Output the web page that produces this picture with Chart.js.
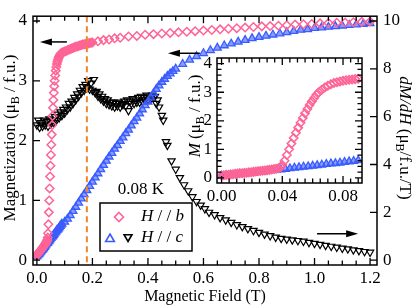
<!DOCTYPE html>
<html>
<head>
<meta charset="utf-8">
<script src="https://cdn.jsdelivr.net/npm/chart.js@4.4.1/dist/chart.umd.min.js"></script>
<style>
  html, body { margin: 0; padding: 0; background: #fff; }
  #wrap { position: relative; width: 414px; height: 308px; }
  #wrap canvas { position: absolute; left: 0; top: 0; }
</style>
</head>
<body>
<div id="wrap">
  <canvas id="mainChart" width="414" height="308"></canvas>
  <canvas id="insetChart" width="414" height="308"></canvas>
</div>
<script>
// H // b magnetization (uB / f.u.)
const fieldB = [0.0000, 0.0015, 0.0030, 0.0045, 0.0060, 0.0075, 0.0090, 0.0105, 0.0120, 0.0135,
  0.0150, 0.0165, 0.0180, 0.0195, 0.0210, 0.0225, 0.0240, 0.0255, 0.0270, 0.0285,
  0.0300, 0.0315, 0.0330, 0.0345, 0.0360, 0.0375, 0.0390, 0.0400, 0.0415, 0.0430,
  0.0445, 0.0460, 0.0475, 0.0490, 0.0505, 0.0520, 0.0535, 0.0550, 0.0565, 0.0580,
  0.0595, 0.0610, 0.0625, 0.0640, 0.0660, 0.0680, 0.0700, 0.0720, 0.0740, 0.0760,
  0.0780, 0.0800, 0.0820, 0.0840, 0.0860, 0.0880, 0.0900, 0.095, 0.100, 0.105,
  0.110, 0.115, 0.120, 0.125, 0.130, 0.135, 0.140, 0.145, 0.150, 0.155,
  0.160, 0.165, 0.170, 0.175, 0.180, 0.185, 0.190, 0.195, 0.200, 0.22,
  0.24, 0.26, 0.28, 0.30, 0.33, 0.36, 0.39, 0.42, 0.45, 0.48,
  0.51, 0.54, 0.57, 0.60, 0.63, 0.66, 0.69, 0.72, 0.75, 0.78,
  0.81, 0.84, 0.87, 0.90, 0.93, 0.96, 0.99, 1.02, 1.05, 1.08,
  1.11, 1.14, 1.17, 1.20];
const momentB = [0.08, 0.09, 0.10, 0.11, 0.12, 0.13, 0.14, 0.15, 0.16, 0.16,
  0.17, 0.18, 0.19, 0.20, 0.21, 0.22, 0.23, 0.24, 0.25, 0.26,
  0.27, 0.28, 0.29, 0.31, 0.32, 0.34, 0.38, 0.45, 0.60, 0.80,
  1.00, 1.20, 1.40, 1.58, 1.76, 1.93, 2.10, 2.26, 2.41, 2.55,
  2.68, 2.80, 2.91, 3.00, 3.09, 3.17, 3.23, 3.28, 3.32, 3.35,
  3.38, 3.40, 3.42, 3.44, 3.45, 3.46, 3.47, 3.48, 3.49, 3.50,
  3.51, 3.52, 3.53, 3.54, 3.55, 3.56, 3.57, 3.575, 3.58, 3.59,
  3.60, 3.605, 3.61, 3.615, 3.62, 3.625, 3.63, 3.635, 3.64, 3.66,
  3.68, 3.69, 3.71, 3.72, 3.74, 3.75, 3.77, 3.78, 3.79, 3.80,
  3.81, 3.82, 3.83, 3.84, 3.85, 3.86, 3.87, 3.88, 3.89, 3.90,
  3.91, 3.915, 3.92, 3.93, 3.94, 3.945, 3.95, 3.96, 3.965, 3.97,
  3.975, 3.98, 3.985, 3.99];

// H // c magnetization (uB / f.u.)
const fieldC = [0.000, 0.003, 0.006, 0.009, 0.012, 0.015, 0.018, 0.021, 0.024, 0.027,
  0.030, 0.033, 0.036, 0.039, 0.042, 0.045, 0.048, 0.051, 0.054, 0.057,
  0.060, 0.063, 0.066, 0.069, 0.072, 0.075, 0.078, 0.081, 0.084, 0.087,
  0.090, 0.10, 0.11, 0.12, 0.13, 0.14, 0.15, 0.16, 0.17, 0.18,
  0.19, 0.20, 0.21, 0.22, 0.23, 0.24, 0.25, 0.26, 0.27, 0.28,
  0.29, 0.30, 0.31, 0.32, 0.33, 0.34, 0.35, 0.36, 0.37, 0.38,
  0.39, 0.40, 0.41, 0.42, 0.43, 0.44, 0.45, 0.46, 0.47, 0.48,
  0.49, 0.50, 0.525, 0.55, 0.575, 0.60, 0.625, 0.65, 0.675, 0.70,
  0.725, 0.75, 0.775, 0.80, 0.825, 0.85, 0.875, 0.90, 0.925, 0.95,
  0.975, 1.00, 1.025, 1.05, 1.075, 1.10, 1.125, 1.15, 1.175, 1.20];
const momentC = [0.06, 0.08, 0.10, 0.11, 0.13, 0.15, 0.17, 0.18, 0.20, 0.22,
  0.24, 0.26, 0.28, 0.29, 0.31, 0.33, 0.35, 0.37, 0.39, 0.40,
  0.42, 0.44, 0.46, 0.48, 0.50, 0.51, 0.53, 0.55, 0.57, 0.59,
  0.61, 0.64, 0.69, 0.75, 0.82, 0.89, 0.96, 1.03, 1.10, 1.17,
  1.24, 1.31, 1.38, 1.45, 1.52, 1.59, 1.66, 1.73, 1.79, 1.86,
  1.92, 1.99, 2.05, 2.12, 2.18, 2.25, 2.32, 2.38, 2.45, 2.52,
  2.59, 2.65, 2.72, 2.79, 2.86, 2.92, 2.98, 3.03, 3.08, 3.12,
  3.16, 3.20, 3.28, 3.35, 3.41, 3.46, 3.51, 3.55, 3.59, 3.62,
  3.65, 3.68, 3.71, 3.73, 3.75, 3.77, 3.79, 3.81, 3.83, 3.85,
  3.86, 3.88, 3.89, 3.90, 3.91, 3.92, 3.93, 3.94, 3.95, 3.96];

// dM/dH for H // c (uB / f.u. / T), right axis
const fieldD = [0.000, 0.005, 0.010, 0.015, 0.020, 0.025, 0.030, 0.035, 0.040, 0.045,
  0.050, 0.055, 0.060, 0.065, 0.070, 0.075, 0.080, 0.085, 0.090, 0.095,
  0.100, 0.105, 0.110, 0.115, 0.120, 0.125, 0.130, 0.135, 0.140, 0.145,
  0.150, 0.155, 0.160, 0.165, 0.170, 0.175, 0.180, 0.185, 0.190, 0.195,
  0.200, 0.205, 0.210, 0.215, 0.220, 0.225, 0.230, 0.235, 0.240, 0.245,
  0.250, 0.255, 0.260, 0.265, 0.270, 0.275, 0.280, 0.285, 0.290, 0.295,
  0.300, 0.305, 0.310, 0.315, 0.320, 0.325, 0.330, 0.335, 0.340, 0.345,
  0.350, 0.355, 0.360, 0.365, 0.370, 0.375, 0.380, 0.385, 0.390, 0.395,
  0.400, 0.405, 0.410, 0.415, 0.420, 0.425, 0.430, 0.435, 0.440, 0.450,
  0.455, 0.465, 0.470, 0.485, 0.500, 0.515, 0.530, 0.545, 0.560, 0.575,
  0.590, 0.605, 0.620, 0.640, 0.660, 0.680, 0.700, 0.720, 0.740, 0.760,
  0.780, 0.800, 0.820, 0.840, 0.860, 0.880, 0.900, 0.920, 0.940, 0.960,
  0.980, 1.000, 1.020, 1.040, 1.060, 1.080, 1.100, 1.120, 1.140, 1.160,
  1.180, 1.200];
const dMdH = [5.65, 5.85, 5.55, 5.75, 5.60, 5.85, 5.65, 5.80, 5.60, 5.90,
  5.70, 5.85, 5.75, 6.00, 5.85, 6.10, 5.95, 6.20, 6.05, 6.30,
  6.15, 6.40, 6.30, 6.55, 6.40, 6.65, 6.55, 6.80, 6.70, 6.95,
  6.85, 7.10, 7.00, 7.25, 7.10, 7.35, 7.20, 7.50, 7.15, 7.40,
  7.10, 7.55, 7.00, 7.05, 6.85, 6.95, 6.75, 6.85, 6.65, 6.75,
  6.55, 6.70, 6.50, 6.60, 6.45, 6.60, 6.40, 6.55, 6.45, 6.60,
  6.40, 6.55, 6.50, 6.65, 6.45, 6.70, 6.25, 6.65, 6.55, 6.75,
  6.55, 6.70, 6.60, 6.80, 6.60, 6.85, 6.65, 6.80, 6.70, 6.90,
  6.70, 6.85, 6.75, 6.90, 6.80, 6.85, 6.55, 6.70, 6.40, 6.05,
  5.85, 4.95, 4.80, 4.15, 3.80, 3.45, 3.15, 2.90, 2.65, 2.45,
  2.30, 2.15, 2.00, 1.90, 1.78, 1.68, 1.58, 1.48, 1.40, 1.32,
  1.24, 1.16, 1.09, 1.02, 0.96, 0.91, 0.88, 0.85, 0.82, 0.79,
  0.74, 0.70, 0.66, 0.62, 0.58, 0.54, 0.50, 0.47, 0.43, 0.40,
  0.36, 0.33];

const markField = 0.18;   // dashed guide line (T)
const tempLabel = '0.08 K';

const pink = '#ff6496';
const blue = '#3a5cff';
const orange = '#f0852d';
const serif = '"Liberation Serif", "DejaVu Serif", serif';

const toPts = (xs, ys) => xs.map((x, i) => ({ x: x, y: ys[i] }));

function fontFor(p, size) {
  const s = p.sub ? Math.round(size * 0.68) : size;
  return (p.it ? 'italic ' : '') + s + 'px ' + serif;
}

// text made of pieces (italic / subscript), centred at x,y
function richText(ctx, parts, x, y, angle, size) {
  ctx.save();
  ctx.translate(x, y);
  ctx.rotate(angle);
  let total = 0;
  parts.forEach(p => { ctx.font = fontFor(p, size); p.w = ctx.measureText(p.t).width; total += p.w; });
  let cx = -total / 2;
  ctx.textBaseline = 'middle';
  ctx.textAlign = 'left';
  ctx.fillStyle = '#000';
  parts.forEach(p => {
    ctx.font = fontFor(p, size);
    ctx.fillText(p.t, cx, p.sub ? size * 0.3 : 0);
    cx += p.w;
  });
  ctx.restore();
}

function marker(ctx, kind, x, y, r, color, fill) {
  ctx.save();
  ctx.strokeStyle = color;
  ctx.lineWidth = 1.6;
  ctx.beginPath();
  if (kind === 'diamond') {
    ctx.moveTo(x, y - r); ctx.lineTo(x + r, y); ctx.lineTo(x, y + r); ctx.lineTo(x - r, y);
  } else if (kind === 'up') {
    ctx.moveTo(x, y - r); ctx.lineTo(x + r * 0.87, y + r * 0.5); ctx.lineTo(x - r * 0.87, y + r * 0.5);
  } else {
    ctx.moveTo(x, y + r); ctx.lineTo(x + r * 0.87, y - r * 0.5); ctx.lineTo(x - r * 0.87, y - r * 0.5);
  }
  ctx.closePath();
  if (fill) { ctx.fillStyle = fill; ctx.fill(); }
  ctx.stroke();
  ctx.restore();
}

function arrow(ctx, x1, x2, y) {
  const dir = x2 > x1 ? 1 : -1;
  ctx.save();
  ctx.strokeStyle = '#000';
  ctx.fillStyle = '#000';
  ctx.lineWidth = 1.5;
  ctx.beginPath();
  ctx.moveTo(x1, y);
  ctx.lineTo(x2 - dir * 8, y);
  ctx.stroke();
  ctx.beginPath();
  ctx.moveTo(x2, y);
  ctx.lineTo(x2 - dir * 12, y - 3.5);
  ctx.lineTo(x2 - dir * 12, y + 3.5);
  ctx.closePath();
  ctx.fill();
  ctx.restore();
}

function range(a, b, step) {
  const out = [];
  for (let i = 0; a + i * step <= b + 1e-9; i++) out.push(+(a + i * step).toFixed(4));
  return out;
}

// inward tick marks on all four sides
function drawTicks(ctx, area, xs, xMajor, xMinor, yl, ylMajor, ylMinor, yr, yrMajor) {
  ctx.save();
  ctx.strokeStyle = '#000';
  ctx.lineWidth = 1.3;
  ctx.beginPath();
  const vx = (vals, len) => vals.forEach(v => {
    const p = xs.getPixelForValue(v);
    ctx.moveTo(p, area.bottom); ctx.lineTo(p, area.bottom - len);
    ctx.moveTo(p, area.top); ctx.lineTo(p, area.top + len);
  });
  vx(xMajor, 7); vx(xMinor, 4.5);
  const vy = (scale, vals, len, left, right) => vals.forEach(v => {
    const p = scale.getPixelForValue(v);
    if (left) { ctx.moveTo(area.left, p); ctx.lineTo(area.left + len, p); }
    if (right) { ctx.moveTo(area.right, p); ctx.lineTo(area.right - len, p); }
  });
  if (yr) {
    vy(yl, ylMajor, 7, true, false);
    vy(yr, yrMajor, 7, false, true);
  } else {
    vy(yl, ylMajor, 7, true, true);
    vy(yl, ylMinor, 4.5, true, true);
  }
  ctx.stroke();
  ctx.restore();
}

const mainDecor = {
  id: 'mainDecor',
  afterDatasetsDraw(chart) {
    const ctx = chart.ctx, area = chart.chartArea;
    const px = chart.scales.x.getPixelForValue(markField);
    ctx.save();
    ctx.strokeStyle = orange;
    ctx.lineWidth = 2;
    ctx.setLineDash([6, 4]);
    ctx.beginPath();
    ctx.moveTo(px, area.top);
    ctx.lineTo(px, area.bottom);
    ctx.stroke();
    ctx.restore();
  },
  afterDraw(chart) {
    const ctx = chart.ctx, area = chart.chartArea;
    const xs = chart.scales.x, yl = chart.scales.y, yr = chart.scales.y1;
    ctx.save();
    ctx.strokeStyle = '#000';
    ctx.lineWidth = 1.5;
    ctx.strokeRect(area.left, area.top, area.right - area.left, area.bottom - area.top);
    ctx.restore();
    drawTicks(ctx, area, xs, range(0, 1.2, 0.2), range(0, 1.2, 0.05), yl, range(0, 4, 1), [], yr, range(0, 10, 2));

    richText(ctx, [{ t: 'Magnetic Field (T)' }], (area.left + area.right) / 2, 297, 0, 16);
    richText(ctx, [{ t: 'Magnetization (\u03bc' }, { t: 'B', sub: true }, { t: ' / f.u.)' }], 11, 138, -Math.PI / 2, 17);
    richText(ctx, [{ t: 'dM/dH', it: true }, { t: ' (\u03bc' }, { t: 'B', sub: true }, { t: '/f.u./T)' }], 404, 138, Math.PI / 2, 17);

    // field-sweep arrows, placed in data units
    arrow(ctx, xs.getPixelForValue(0.108), xs.getPixelForValue(0.011), yl.getPixelForValue(3.65));
    arrow(ctx, xs.getPixelForValue(0.587), xs.getPixelForValue(0.472), yl.getPixelForValue(3.46));
    arrow(ctx, xs.getPixelForValue(1.009), xs.getPixelForValue(1.157), yr.getPixelForValue(1.11));

    // temperature + legend box
    ctx.save();
    ctx.fillStyle = '#000';
    ctx.font = '17px ' + serif;
    ctx.textAlign = 'center';
    ctx.textBaseline = 'middle';
    ctx.fillText(tempLabel, 141, 190);
    ctx.fillStyle = '#fff';
    ctx.fillRect(100, 203, 92, 48);
    ctx.strokeStyle = '#000';
    ctx.lineWidth = 1.5;
    ctx.strokeRect(100, 203, 92, 48);
    ctx.restore();
    marker(ctx, 'diamond', 119, 217, 4.5, pink);
    marker(ctx, 'up', 110, 239, 5, blue);
    marker(ctx, 'down', 128, 237, 4.5, '#000');
    const legendRow = (y, last) => {
      ctx.save();
      ctx.fillStyle = '#000';
      ctx.textBaseline = 'middle';
      ctx.textAlign = 'left';
      let x = 141;
      ctx.font = 'italic 17px ' + serif; ctx.fillText('H', x, y); x += ctx.measureText('H').width;
      ctx.font = '17px ' + serif; ctx.fillText(' / / ', x, y); x += ctx.measureText(' / / ').width;
      ctx.font = 'italic 17px ' + serif; ctx.fillText(last, x, y);
      ctx.restore();
    };
    legendRow(217, 'b');
    legendRow(238, 'c');
  }
};

const insetDecor = {
  id: 'insetDecor',
  beforeDraw(chart) {
    const ctx = chart.ctx, a = chart.chartArea;
    ctx.save();
    ctx.fillStyle = '#fff';
    ctx.fillRect(a.left, a.top, a.right - a.left, a.bottom - a.top);
    ctx.restore();
  },
  afterDraw(chart) {
    const ctx = chart.ctx, area = chart.chartArea;
    ctx.save();
    ctx.strokeStyle = '#000';
    ctx.lineWidth = 1.5;
    ctx.strokeRect(area.left, area.top, area.right - area.left, area.bottom - area.top);
    ctx.restore();
    drawTicks(ctx, area, chart.scales.x, [0, 0.04, 0.08], range(0, 0.09, 0.005),
      chart.scales.y, range(0, 4, 1), range(0, 4, 0.2), null, null);
    richText(ctx, [{ t: 'M', it: true }, { t: ' (\u03bc' }, { t: 'B', sub: true }, { t: ' / f.u.)' }], 196, 116, -Math.PI / 2, 17);
  }
};

const tickFont = { family: serif, size: 17 };

function scaleOpts(min, max, tickVals, fmt, fit) {
  return {
    type: 'linear', min: min, max: max,
    afterBuildTicks: s => { s.ticks = tickVals.map(v => ({ value: v })); },
    afterFit: fit,
    ticks: { font: tickFont, color: '#000', padding: 4, maxRotation: 0, autoSkip: false, callback: fmt },
    grid: { display: false, drawTicks: false },
    border: { display: false }
  };
}

const mainX = scaleOpts(-0.014, 1.225, range(0, 1.2, 0.2), v => v.toFixed(1), s => { s.height = 43; });
mainX.ticks.padding = 3;
const mainY = scaleOpts(-0.08, 4.08, range(0, 4, 1), v => String(v), s => { s.width = 33; });
mainY.position = 'left';
mainY.ticks.padding = 6;
const mainY1 = scaleOpts(-0.2, 10.2, range(0, 10, 2), v => String(v), s => { s.width = 37; });
mainY1.position = 'right';
mainY1.ticks.padding = 6;

new Chart(document.getElementById('mainChart'), {
  type: 'scatter',
  data: {
    datasets: [
      { label: 'H // b', data: toPts(fieldB, momentB), yAxisID: 'y', order: 0,
        pointStyle: 'rectRot', pointRadius: 4.2, pointBorderWidth: 1.5,
        pointBorderColor: pink, pointBackgroundColor: 'rgba(255,255,255,0)' },
      { label: 'H // c', data: toPts(fieldC, momentC), yAxisID: 'y', order: 1,
        pointStyle: 'triangle', pointRadius: 4.5, pointBorderWidth: 1.3,
        pointBorderColor: blue, pointBackgroundColor: 'rgba(58,92,255,0.6)' },
      { label: 'dM/dH', data: toPts(fieldD, dMdH), yAxisID: 'y1', order: 2,
        pointStyle: 'triangle', pointRotation: 180, pointRadius: 4.2, pointBorderWidth: 1.2,
        pointBorderColor: '#000', pointBackgroundColor: 'rgba(255,255,255,0)' }
    ]
  },
  options: {
    responsive: false,
    devicePixelRatio: 1,
    animation: false,
    layout: { padding: { top: 3, left: 0, right: 0, bottom: 0 } },
    scales: { x: mainX, y: mainY, y1: mainY1 },
    plugins: { legend: { display: false }, tooltip: { enabled: false } },
    events: []
  },
  plugins: [mainDecor]
});

const insetX = scaleOpts(-0.003, 0.0925, [0, 0.04, 0.08], v => v.toFixed(2), s => { s.height = 20; });
insetX.ticks.padding = 3;
const insetY = scaleOpts(-0.18, 4.2, range(0, 4, 1), v => String(v), s => { s.width = 20; });
insetY.ticks.padding = 5;

new Chart(document.getElementById('insetChart'), {
  type: 'scatter',
  data: {
    datasets: [
      { label: 'H // b', data: toPts(fieldB, momentB), order: 0,
        pointStyle: 'rectRot', pointRadius: 4.2, pointBorderWidth: 1.5,
        pointBorderColor: pink, pointBackgroundColor: 'rgba(255,255,255,0)' },
      { label: 'H // c', data: toPts(fieldC, momentC), order: 1,
        pointStyle: 'triangle', pointRadius: 4.5, pointBorderWidth: 1.3,
        pointBorderColor: blue, pointBackgroundColor: 'rgba(58,92,255,0.6)' }
    ]
  },
  options: {
    responsive: false,
    devicePixelRatio: 1,
    animation: false,
    layout: { padding: { left: 197, right: 52, top: 58, bottom: 105 } },
    scales: { x: insetX, y: insetY },
    plugins: { legend: { display: false }, tooltip: { enabled: false } },
    events: []
  },
  plugins: [insetDecor]
});
</script>
</body>
</html>
